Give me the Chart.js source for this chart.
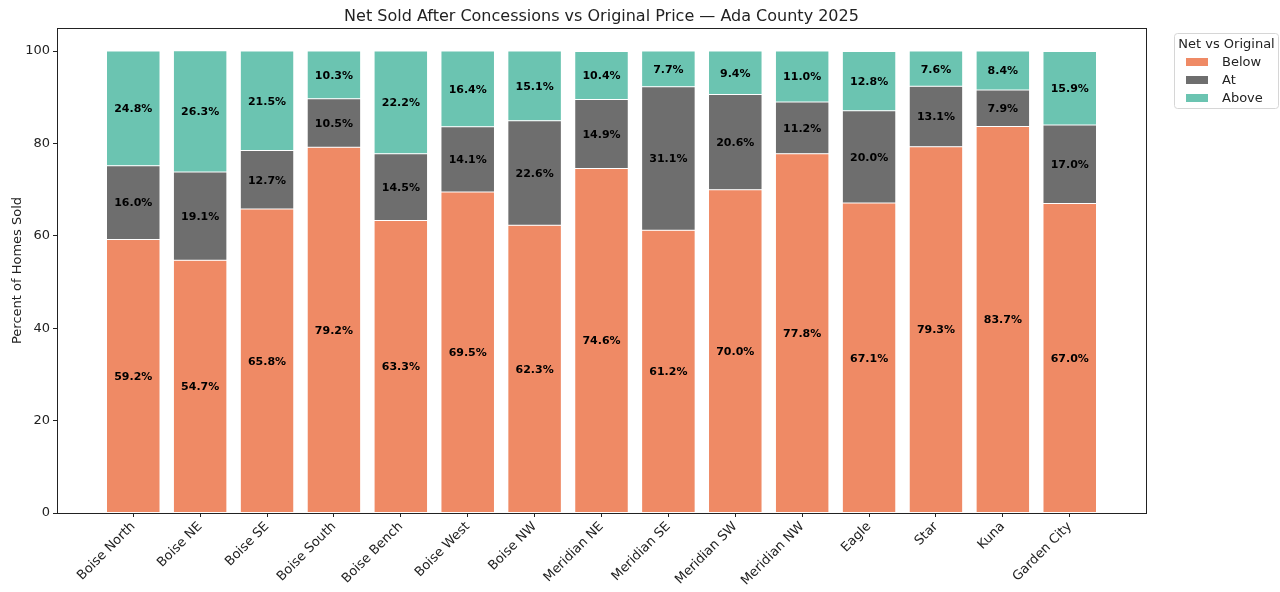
<!DOCTYPE html>
<html><head><meta charset="utf-8">
<script src="https://cdn.jsdelivr.net/npm/chart.js@4.4.1/dist/chart.umd.min.js"></script>
<style>html,body{margin:0;padding:0;background:#fff}#wrap{width:1280px;height:592px;position:relative}</style>
</head><body><div id="wrap"><canvas id="c" width="1280" height="592"></canvas></div>
<script>
const categories = ["Boise North","Boise NE","Boise SE","Boise South","Boise Bench","Boise West","Boise NW","Meridian NE","Meridian SE","Meridian SW","Meridian NW","Eagle","Star","Kuna","Garden City"];
const below = [59.2,54.7,65.8,79.2,63.3,69.5,62.3,74.6,61.2,70.0,77.8,67.1,79.3,83.7,67.0];
const at = [16.0,19.1,12.7,10.5,14.5,14.1,22.6,14.9,31.1,20.6,11.2,20.0,13.1,7.9,17.0];
const above = [24.8,26.3,21.5,10.3,22.2,16.4,15.1,10.4,7.7,9.4,11.0,12.8,7.6,8.4,15.9];
const seriesNames = ["Below","At","Above"];
const seriesColors = ["#ef8a65","#6e6e6e","#6bc4b1"];
const yTicks = [0,20,40,60,80,100];
const titleText = "Net Sold After Concessions vs Original Price \u2014 Ada County 2025";
const legendTitle = "Net vs Original";
const yTitle = "Percent of Homes Sold";
const FONT = "'DejaVu Sans', sans-serif";

const toPts = arr => arr.map((v,i)=>({x:i,y:v}));
const datasets = [below,at,above].map((arr,k)=>({
  label: seriesNames[k], data: toPts(arr), backgroundColor: seriesColors[k],
  borderColor:'rgba(255,255,255,0.8)', borderWidth:0.5, borderSkipped:false,
  barPercentage:0.8, categoryPercentage:1.0
}));

const customDraw = {
  id:'customDraw',
  afterDatasetsDraw(chart){
    const ctx = chart.ctx, ca = chart.chartArea;
    ctx.save();
    ctx.font = "bold 11px " + FONT;
    ctx.fillStyle = '#000'; ctx.textAlign='center'; ctx.textBaseline='middle';
    chart.data.datasets.forEach((ds,di)=>{
      const meta = chart.getDatasetMeta(di);
      meta.data.forEach((el,i)=>{
        const v = ds.data[i].y;
        const yc = (el.y + el.base)/2;
        ctx.fillText(v.toFixed(1)+'%', el.x, yc+1);
      });
    });
    ctx.strokeStyle='#222'; ctx.lineWidth=1;
    ctx.strokeRect(Math.round(ca.left)+0.5, Math.round(ca.top)+0.5, Math.round(ca.right-ca.left), Math.round(ca.bottom-ca.top));
    ctx.font = "16px " + FONT; ctx.fillStyle='#222'; ctx.textBaseline='alphabetic';
    ctx.fillText(titleText, (ca.left+ca.right)/2, 21);
    ctx.save(); ctx.translate(18,(ca.top+ca.bottom)/2); ctx.rotate(-Math.PI/2);
    ctx.font = "13px " + FONT; ctx.textAlign='center'; ctx.textBaseline='middle';
    ctx.fillText(yTitle,0,0); ctx.restore();
    const lx=1174.5, ly=33.5, lw=104, lh=75;
    ctx.fillStyle='rgba(255,255,255,0.8)'; ctx.strokeStyle='#d6d6d6';
    ctx.beginPath();
    if (ctx.roundRect) ctx.roundRect(lx,ly,lw,lh,3); else ctx.rect(lx,ly,lw,lh);
    ctx.fill(); ctx.stroke();
    ctx.fillStyle='#222'; ctx.font="13px "+FONT; ctx.textAlign='center'; ctx.textBaseline='middle';
    ctx.fillText(legendTitle, lx+lw/2, 45);
    ctx.textAlign='left';
    seriesNames.forEach((n,k)=>{
      const yy = 62 + k*18;
      ctx.fillStyle = seriesColors[k];
      ctx.fillRect(1186, yy-4, 22, 8);
      ctx.fillStyle='#222';
      ctx.fillText(n, 1222, yy+1);
    });
    ctx.restore();
  }
};

new Chart(document.getElementById('c'), {
  type:'bar',
  data:{datasets},
  plugins:[customDraw],
  options:{
    responsive:false, animation:false,
    devicePixelRatio:1,
    layout:{padding:{top:28,right:134,left:0,bottom:0}},
    plugins:{legend:{display:false},title:{display:false},tooltip:{enabled:false}},
    scales:{
      x:{type:'linear', stacked:true, min:-1.14, max:15.14, offset:false,
        afterBuildTicks(s){ s.ticks = categories.map((c,i)=>({value:i})); },
        afterFit(s){ s.height = 592-513; },
        ticks:{autoSkip:false, maxRotation:45, minRotation:45, color:'#222', font:{family:FONT,size:13}, padding:2,
          callback:(v)=>categories[v] ?? ''},
        grid:{display:true, drawOnChartArea:false, offset:false, tickLength:4, color:'#222'},
        border:{display:true,color:'#222'}
      },
      y:{stacked:true, min:0, max:105,
        afterBuildTicks(s){ s.ticks = yTicks.map(v=>({value:v})); },
        afterFit(s){ s.width = 57; },
        ticks:{color:'#222', font:{family:FONT,size:13}, padding:3},
        grid:{display:true, drawOnChartArea:false, tickLength:4, color:'#222'},
        border:{display:true,color:'#222'}
      }
    }
  }
});
</script></body></html>
